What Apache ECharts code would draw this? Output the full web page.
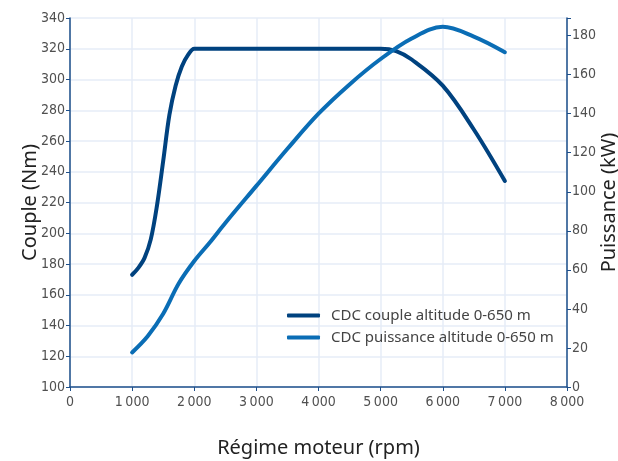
<!DOCTYPE html>
<html>
<head>
<meta charset="utf-8">
<script src="https://cdn.jsdelivr.net/npm/echarts@6/dist/echarts.min.js"></script>
<style>html,body{margin:0;padding:0;background:#fff}#c{width:618px;height:461px}</style>
</head>
<body>
<div id="c"></div>
<script>
var rpmTicks = [0, 1000, 2000, 3000, 4000, 5000, 6000, 7000, 8000];
var torqueRpm = [1000, 1100, 1200, 1300, 1400, 1500, 1600, 1700, 1800, 1900, 2000, 2100, 3000, 4000, 5000, 5250, 5500, 6000, 6500, 7000];
var torqueNm  = [173, 177.5, 184, 196, 218, 247, 277, 296, 308.5, 316, 320, 320, 320, 320, 320, 318.5, 313, 296, 267.5, 234];
var powerRpm = [1000, 1250, 1500, 1750, 2000, 2250, 2500, 3000, 3500, 4000, 4500, 5000, 5500, 6000, 6500, 7000];
var powerKw  = [17.7, 26, 37.5, 53, 64.5, 74, 84, 103, 122, 140, 155, 168, 178.5, 184.5, 179.5, 171.5];
var seriesNames = ['CDC couple altitude 0-650 m', 'CDC puissance altitude 0-650 m'];

function pairs(xs, ys) { return xs.map(function (x, i) { return [x, ys[i]]; }); }
var tickFont = "'Liberation Sans Narrow','DejaVu Sans Condensed',sans-serif";
var nameFont = "'Noto Sans',sans-serif";
var axisColor = '#1d4f8a';

var chart = echarts.init(document.getElementById('c'));
chart.setOption({
  animation: false,
  grid: { left: 70, right: 51, top: 18, bottom: 74, outerBoundsMode: 'none', containLabel: false },
  legend: {
    orient: 'vertical',
    left: 282, top: 303,
    itemWidth: 33, itemHeight: 4, itemGap: 7,
    icon: 'roundRect',
    textStyle: { fontFamily: nameFont, fontSize: 15, color: '#444', padding: [0, 0, 0, 6] },
    data: seriesNames
  },
  xAxis: {
    type: 'value', min: 0, max: 8000, interval: 1000,
    name: 'Régime moteur (rpm)', nameLocation: 'middle', nameGap: 51, nameMoveOverlap: false,
    nameTextStyle: { fontFamily: nameFont, fontSize: 20, color: '#222' },
    axisLine: { show: true, lineStyle: { color: axisColor, width: 1.5 } },
    axisTick: { show: true, length: 4, lineStyle: { color: axisColor } },
    axisLabel: {
      margin: 8, color: '#505050', fontFamily: tickFont, fontSize: 14,
      formatter: function (v) { return v >= 1000 ? Math.floor(v / 1000) + '\u2009000' : String(v); }
    },
    splitLine: { show: true, lineStyle: { color: '#e6ecf7', width: 1.5 } }
  },
  yAxis: [{
    type: 'value', min: 100, max: 340, interval: 20, position: 'left',
    name: 'Couple (Nm)', nameLocation: 'middle', nameGap: 30, nameRotate: 90, nameMoveOverlap: false,
    nameTextStyle: { fontFamily: nameFont, fontSize: 20, color: '#222' },
    axisLine: { show: true, lineStyle: { color: axisColor, width: 1.5 } },
    axisTick: { show: true, length: 4, lineStyle: { color: axisColor } },
    axisLabel: { margin: 5, color: '#505050', fontFamily: tickFont, fontSize: 14 },
    splitLine: { show: true, lineStyle: { color: '#e6ecf7', width: 1.5 } }
  }, {
    type: 'value', min: 0, max: 189, interval: 20, position: 'right',
    name: 'Puissance (kW)', nameLocation: 'middle', nameGap: 32, nameRotate: 90, nameMoveOverlap: false,
    nameTextStyle: { fontFamily: nameFont, fontSize: 20, color: '#222' },
    axisLine: { show: true, lineStyle: { color: axisColor, width: 1.5 } },
    axisTick: { show: true, length: 4, lineStyle: { color: axisColor } },
    axisLabel: {
      margin: 5, color: '#505050', fontFamily: tickFont, fontSize: 14,
      formatter: function (v) { return v % 20 === 0 ? String(v) : ''; }
    },
    splitLine: { show: false }
  }],
  series: [{
    name: seriesNames[0], type: 'line', yAxisIndex: 0,
    data: pairs(torqueRpm, torqueNm),
    smooth: 0.35, showSymbol: false, symbol: 'none',
    lineStyle: { color: '#00427f', width: 4, cap: 'round' },
    itemStyle: { color: '#00427f' }
  }, {
    name: seriesNames[1], type: 'line', yAxisIndex: 1,
    data: pairs(powerRpm, powerKw),
    smooth: 0.35, showSymbol: false, symbol: 'none',
    lineStyle: { color: '#0a6db5', width: 4, cap: 'round' },
    itemStyle: { color: '#0a6db5' }
  }]
});
</script>
</body>
</html>
